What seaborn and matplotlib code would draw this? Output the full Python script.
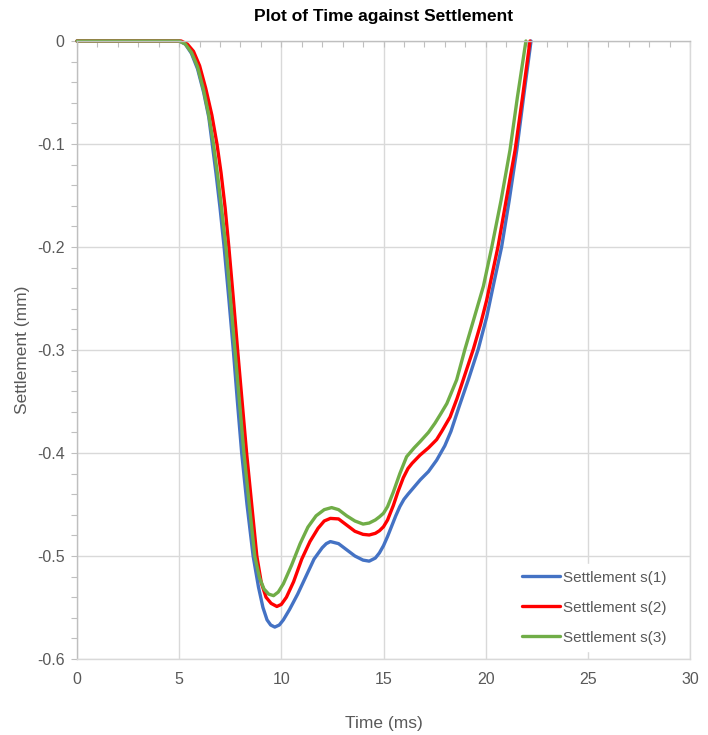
import matplotlib
matplotlib.use("Agg")
import matplotlib.pyplot as plt
from matplotlib.ticker import MultipleLocator
import seaborn as sns
import pandas as pd

# Settlement records (time in ms, settlement in mm)
time_s1 = [0, 1, 2, 3, 4, 5.0, 5.3, 5.6, 5.9, 6.2, 6.45, 6.6, 6.8, 7.0, 7.2, 7.43, 7.65,
           7.85, 8.06, 8.32, 8.62, 8.88, 9.1, 9.3, 9.48, 9.68, 9.9, 10.1, 10.4, 10.8,
           11.2, 11.6, 12.0, 12.2, 12.4, 12.8, 13.2, 13.6, 14.0, 14.3, 14.6, 14.8, 15.0,
           15.2, 15.4, 15.6, 15.8, 16.0, 16.2, 16.5, 16.8, 17.2, 17.6, 18.0, 18.3, 18.7,
           19.15, 19.64, 20.05, 20.4, 20.78, 21.15, 21.52, 21.85, 22.22]
settle_s1 = [0, 0, 0, 0, 0, 0, -0.003, -0.012, -0.027, -0.05, -0.074, -0.097, -0.128, -0.162,
             -0.2, -0.25, -0.3, -0.35, -0.4, -0.45, -0.5, -0.53, -0.55, -0.562, -0.567,
             -0.569, -0.567, -0.562, -0.552, -0.537, -0.52, -0.503, -0.492, -0.488, -0.486,
             -0.488, -0.494, -0.5, -0.504, -0.505, -0.502, -0.497, -0.49, -0.481, -0.471,
             -0.461, -0.452, -0.445, -0.44, -0.433, -0.426, -0.418, -0.407, -0.393, -0.379,
             -0.355, -0.329, -0.299, -0.268, -0.235, -0.2, -0.155, -0.106, -0.055, 0.0]

time_s2 = [0, 1, 2, 3, 4, 5.1, 5.4, 5.7, 6.0, 6.3, 6.6, 6.85, 7.05, 7.25, 7.43, 7.65, 7.86,
           8.08, 8.3, 8.55, 8.8, 9.02, 9.25, 9.5, 9.78, 10.0, 10.25, 10.6, 11.0, 11.4,
           11.8, 12.1, 12.4, 12.8, 13.2, 13.6, 14.0, 14.3, 14.6, 14.8, 15.0, 15.2, 15.48,
           15.7, 15.97, 16.2, 16.4, 16.79, 17.2, 17.6, 17.85, 18.26, 18.6, 18.9, 19.4,
           19.75, 20.05, 20.6, 21.0, 21.44, 21.8, 22.17]
settle_s2 = [0, 0, 0, 0, 0, 0, -0.003, -0.01, -0.024, -0.046, -0.072, -0.1, -0.128, -0.162,
             -0.2, -0.25, -0.3, -0.35, -0.4, -0.45, -0.5, -0.526, -0.54, -0.546, -0.549,
             -0.547, -0.54, -0.525, -0.503, -0.486, -0.473, -0.466, -0.4635, -0.464, -0.47,
             -0.476, -0.479, -0.4796, -0.478, -0.4755, -0.4716, -0.465, -0.451, -0.438,
             -0.424, -0.415, -0.41, -0.402, -0.395, -0.387, -0.379, -0.365, -0.347, -0.329,
             -0.299, -0.275, -0.2515, -0.2, -0.155, -0.106, -0.055, 0.0]

time_s3 = [0, 1, 2, 3, 4, 5.0, 5.3, 5.6, 5.9, 6.2, 6.45, 6.68, 6.88, 7.08, 7.29, 7.51, 7.73,
           7.95, 8.17, 8.43, 8.7, 8.93, 9.15, 9.38, 9.62, 9.85, 10.1, 10.5, 10.92, 11.3,
           11.7, 12.1, 12.46, 12.8, 13.2, 13.6, 14.0, 14.3, 14.6, 14.8, 15.0, 15.2, 15.48,
           15.8, 16.13, 16.5, 16.79, 17.2, 17.52, 17.8, 18.1, 18.58, 18.99, 19.45, 19.89,
           20.3, 20.75, 21.19, 21.55, 21.97]
settle_s3 = [0, 0, 0, 0, 0, 0, -0.003, -0.011, -0.025, -0.048, -0.072, -0.1, -0.13, -0.163,
             -0.2, -0.25, -0.3, -0.35, -0.4, -0.45, -0.5, -0.521, -0.532, -0.537, -0.5385,
             -0.535, -0.527, -0.509, -0.488, -0.472, -0.461, -0.455, -0.453, -0.455, -0.461,
             -0.466, -0.469, -0.468, -0.465, -0.462, -0.4585, -0.452, -0.438, -0.42,
             -0.4036, -0.395, -0.389, -0.38, -0.371, -0.362, -0.352, -0.329, -0.299, -0.268,
             -0.238, -0.2, -0.155, -0.106, -0.055, 0.0]

series_names = ["Settlement s(1)", "Settlement s(2)", "Settlement s(3)"]
series_colors = ["#4472C4", "#FF0000", "#70AD47"]

x_ticks = [0, 5, 10, 15, 20, 25, 30]
y_ticks = [0, -0.1, -0.2, -0.3, -0.4, -0.5, -0.6]
y_tick_labels = ["0", "-0.1", "-0.2", "-0.3", "-0.4", "-0.5", "-0.6"]

frames = []
for name, t, s in zip(series_names,
                      [time_s1, time_s2, time_s3],
                      [settle_s1, settle_s2, settle_s3]):
    frames.append(pd.DataFrame({"Time": t, "Settlement": s, "Series": name}))
data = pd.concat(frames, ignore_index=True)

sns.set_theme(style="white")
plt.rcParams["font.family"] = ["Liberation Sans", "DejaVu Sans"]
plt.rcParams["axes.unicode_minus"] = False

fig = plt.figure(figsize=(7.08, 7.35), dpi=100)
ax = fig.add_axes([77 / 708, 1 - 659 / 735, 613 / 708, 618 / 735])

grid_col = "#D9D9D9"
axis_col = "#BFBFBF"
text_col = "#595959"

sns.lineplot(data=data, x="Time", y="Settlement", hue="Series",
             palette=series_colors, hue_order=series_names,
             estimator=None, sort=False, linewidth=2.4, ax=ax)
for ln in ax.get_lines():
    ln.set_clip_on(False)
    ln.set_solid_capstyle("round")
    ln.set_solid_joinstyle("round")

ax.set_xlim(0, 30)
ax.set_ylim(-0.6, 0)
ax.set_xticks(x_ticks)
ax.set_yticks(y_ticks)
ax.set_yticklabels(y_tick_labels)
ax.xaxis.set_minor_locator(MultipleLocator(1))
ax.yaxis.set_minor_locator(MultipleLocator(0.02))

ax.grid(True, which="major", color=grid_col, linewidth=1.0)
ax.set_axisbelow(True)

# Excel-style axes: the time axis crosses at 0 (top), labels stay at the bottom
ax.tick_params(axis="x", which="both", bottom=False, top=True, direction="in",
               length=4, width=0.8, color=axis_col, labelbottom=True, labeltop=False,
               labelsize=11.5, labelcolor=text_col, pad=9)
ax.tick_params(axis="y", which="both", left=True, right=False, direction="out",
               length=4, width=0.8, color=axis_col, labelsize=11.5,
               labelcolor=text_col, pad=5)

for side in ["left", "top"]:
    ax.spines[side].set_color(axis_col)
    ax.spines[side].set_linewidth(1.0)
for side in ["right", "bottom"]:
    ax.spines[side].set_color(grid_col)
    ax.spines[side].set_linewidth(1.0)

ax.set_xlabel("Time (ms)", fontsize=12.5, color=text_col, labelpad=21)
ax.set_ylabel("Settlement (mm)", fontsize=12.5, color=text_col, labelpad=5)
fig.text(0.5 * (77 + 690) / 708, 1 - 16 / 735, "Plot of Time against Settlement",
         ha="center", va="center", fontsize=12.5, fontweight="bold", color="black")

leg = ax.legend(loc="upper left", bbox_to_anchor=(0.716, 0.153), borderaxespad=0,
                frameon=True, fontsize=11, handlelength=2.5, handletextpad=0.15,
                labelspacing=1.05, borderpad=0.4)
leg.get_frame().set_facecolor("white")
leg.get_frame().set_edgecolor("white")
leg.get_frame().set_alpha(1)
leg.get_frame().set_boxstyle("square", pad=0)
for txt in leg.get_texts():
    txt.set_color(text_col)
for h in leg.get_lines():
    h.set_linewidth(2.4)

fig.savefig("out.png", dpi=100, facecolor="white")
